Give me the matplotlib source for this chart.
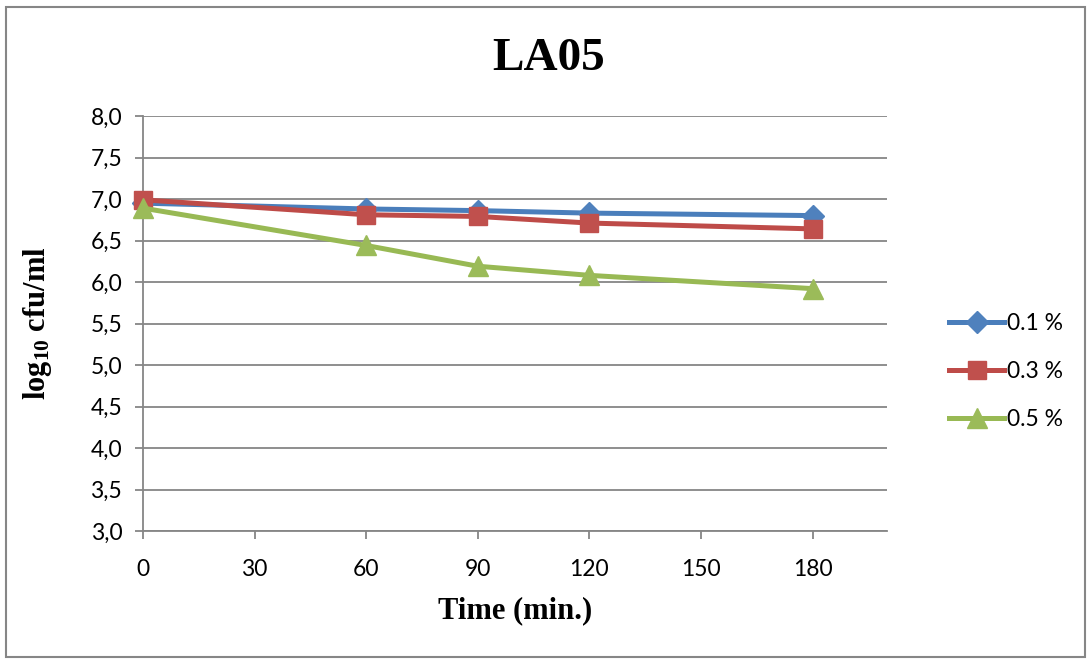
import matplotlib.pyplot as plt
from matplotlib.patches import Rectangle
from matplotlib.ticker import FuncFormatter

plt.rcParams['mathtext.fontset'] = 'custom'
plt.rcParams['mathtext.rm'] = 'Liberation Serif'
plt.rcParams['mathtext.bf'] = 'Liberation Serif:bold'

# time points (min) and log10 counts for each concentration
time = [0, 60, 90, 120, 180]
conc_01 = [6.95, 6.88, 6.86, 6.83, 6.80]
conc_03 = [6.99, 6.81, 6.79, 6.71, 6.64]
conc_05 = [6.89, 6.44, 6.19, 6.08, 5.92]
labels = ['0.1 %', '0.3 %', '0.5 %']

fig = plt.figure(figsize=(10.91, 6.59), dpi=100)
ax = fig.add_axes([143/1091, 1-531/659, (887-143)/1091, (531-116)/659])

tick_font = 'Lato'
ax.plot(time, conc_01, color='#4A7EBB', lw=3.6, marker='D', ms=11,
        mfc='#4F81BD', mec='#4F81BD', label=labels[0], zorder=3, clip_on=False)
ax.plot(time, conc_03, color='#BE4B48', lw=3.6, marker='s', ms=13,
        mfc='#C0504D', mec='#C0504D', label=labels[1], zorder=4, clip_on=False)
ax.plot(time, conc_05, color='#98B954', lw=3.6, marker='^', ms=14,
        mfc='#9BBB59', mec='#9BBB59', label=labels[2], zorder=5, clip_on=False)

ax.set_xlim(0, 200)
ax.set_ylim(3.0, 8.0)
ax.set_xticks([0, 30, 60, 90, 120, 150, 180])
ax.set_yticks([3.0 + 0.5 * i for i in range(11)])
ax.yaxis.set_major_formatter(FuncFormatter(lambda v, p: f'{v:.1f}'.replace('.', ',')))
ax.grid(axis='y', color='#868686', lw=1.3)
ax.set_axisbelow(True)

for s in ['top', 'right']:
    ax.spines[s].set_visible(False)
for s in ['left', 'bottom']:
    ax.spines[s].set_color('#868686')
    ax.spines[s].set_linewidth(1.3)
ax.tick_params(axis='both', color='#868686', width=1.3, length=6, labelsize=16.5)
ax.tick_params(axis='x', pad=14)
ax.tick_params(axis='y', pad=9)
for t in ax.get_xticklabels() + ax.get_yticklabels():
    t.set_fontfamily(tick_font)

ax.set_xlabel('Time (min.)', fontfamily='Liberation Serif', fontweight='bold', fontsize=22, labelpad=12)
ax.set_ylabel(r'$\mathbf{log_{10}}$ cfu/ml', fontfamily='Liberation Serif', fontweight='bold',
              fontsize=22, labelpad=26)
fig.text(0.503, 0.91, 'LA05', ha='center', va='center', fontfamily='Liberation Serif',
         fontweight='bold', fontsize=34)

leg = ax.legend(loc='center left', bbox_to_anchor=(1.068, 0.385), frameon=False,
                prop={'family': tick_font, 'size': 16.5}, handlelength=2.4, handletextpad=0.15,
                labelspacing=1.17, borderpad=0)

fig.add_artist(Rectangle((6/1091, 1-657/659), 1079/1091, 650/659, transform=fig.transFigure,
                         fill=False, edgecolor='#868686', lw=1.5))

fig.savefig('out.png', dpi=100)
